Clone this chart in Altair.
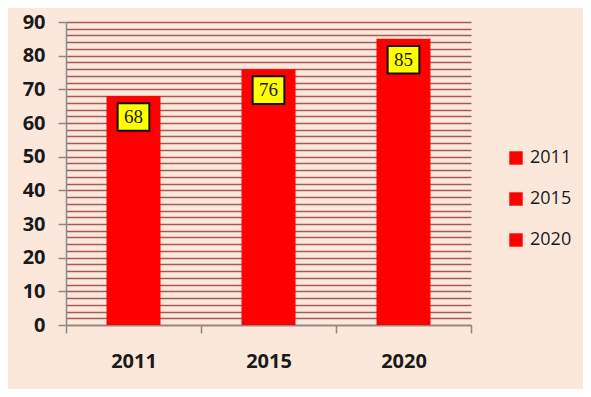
import altair as alt
import pandas as pd

years = ["2011", "2015", "2020"]
values = [68, 76, 85]

df = pd.DataFrame({"year": years, "value": values})

bg = "#FCE8DA"
grid_vals = list(range(0, 92, 2))

x_enc = alt.X(
    "year:N",
    sort=years,
    title=None,
    scale=alt.Scale(paddingInner=0, paddingOuter=0),
    axis=alt.Axis(
        labelAngle=0,
        labelFont="Open Sans",
        labelFontWeight="bold",
        labelFontSize=20,
        labelColor="#1a1a1a",
        labelPadding=18,
        tickBand="extent",
        tickSize=8,
        tickColor="#8a8a8a",
        domainColor="#8a8a8a",
        domainWidth=1.5,
        tickWidth=1.5,
        grid=False,
    ),
)

y_enc = alt.Y(
    "value:Q",
    title=None,
    scale=alt.Scale(domain=[0, 90], nice=False),
    axis=alt.Axis(
        values=grid_vals,
        labelExpr="datum.value % 10 == 0 ? datum.label : ''",
        labelOverlap=False,
        labelFont="Open Sans",
        labelFontWeight="bold",
        labelFontSize=20,
        labelColor="#1a1a1a",
        labelPadding=13,
        tickSize=8,
        tickWidth=1.5,
        tickColor={"condition": {"test": "datum.value % 10 == 0", "value": "#8a8a8a"}, "value": "transparent"},
        domainColor="#8a8a8a",
        domainWidth=1.5,
        grid=True,
        gridColor="#A4595B",
        gridWidth=1.6,
    ),
)

base = alt.Chart(df)

bars = base.mark_bar(color="#FF0000", width={"band": 0.4}).encode(
    x=x_enc,
    y=y_enc,
    color=alt.Color(
        "year:N",
        sort=years,
        scale=alt.Scale(domain=years, range=["#FF0000", "#FF0000", "#FF0000"]),
        legend=alt.Legend(
            title=None,
            orient="none",
            legendX=441,
            legendY=127,
            symbolType="square",
            symbolSize=180,
            symbolStrokeWidth=0,
            labelFont="Open Sans",
            labelFontSize=18,
            labelColor="#1a1a1a",
            labelOffset=5,
            rowPadding=23,
            padding=0,
        ),
    ),
)

boxes = base.mark_point(
    shape="M-1.15,-1L1.15,-1L1.15,1L-1.15,1Z",
    filled=True,
    fill="#FFFF00",
    stroke="#111111",
    strokeWidth=2,
    opacity=1,
    size=760,
    yOffset=21,
).encode(x=x_enc, y=y_enc)

labels = base.mark_text(
    font="Liberation Serif",
    fontSize=19,
    color="#1a1a1a",
    baseline="middle",
    align="center",
    yOffset=21,
).encode(x=x_enc, y=y_enc, text="value:Q")

chart = (
    alt.layer(bars, boxes, labels)
    .properties(
        width=405,
        height=303,
        background=bg,
        padding={"left": 58, "top": 14, "right": 112, "bottom": 64},
        autosize=alt.AutoSizeParams(type="none"),
    )
    .configure_view(stroke=None)
)

chart.save("out.html", embed_options={"renderer": "svg", "actions": False})
